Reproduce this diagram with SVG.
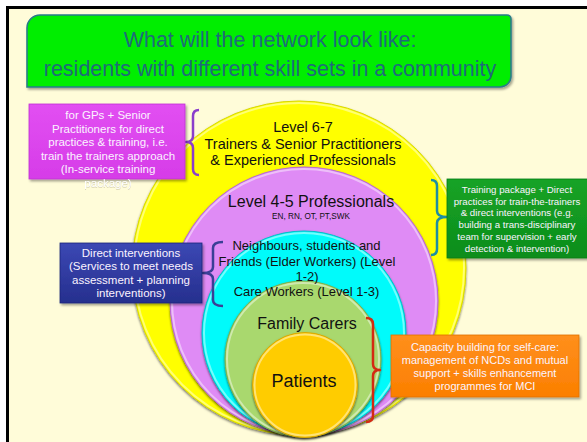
<svg xmlns="http://www.w3.org/2000/svg" width="587" height="442" viewBox="0 0 587 442">
  <defs>
    <style>
      .lbl { font-family: "Liberation Sans", Arial, sans-serif; fill: #111; text-anchor: middle; }
      .box-txt { font-family: "Liberation Sans", Arial, sans-serif; fill: #fbf3ff; text-anchor: middle; }
      .title { font-family: "Liberation Sans", Arial, sans-serif; fill: #1f6b7a; text-anchor: middle; font-size: 21.5px; }
      .ring { filter: url(#ringShadow); }
      .rim { fill: none; stroke: #ffffff; stroke-opacity: 0.45; stroke-width: 2; }
      .brace { fill: none; stroke-width: 2.5; stroke-linejoin: round; stroke-linecap: butt; }
      .card { filter: url(#cardShadow); }
    </style>
    <filter id="ringShadow" x="-10%" y="-10%" width="120%" height="125%">
      <feDropShadow dx="0" dy="1.5" stdDeviation="1.2" flood-color="#000" flood-opacity="0.55"/>
    </filter>
    <filter id="cardShadow" x="-10%" y="-10%" width="125%" height="130%">
      <feDropShadow dx="1.5" dy="2" stdDeviation="1.2" flood-color="#000" flood-opacity="0.35"/>
    </filter>
    <filter id="softGlow" x="-10%" y="-40%" width="120%" height="180%">
      <feDropShadow dx="0" dy="0.5" stdDeviation="0.7" flood-color="#7a6e50" flood-opacity="0.55"/>
    </filter>
    <linearGradient id="blueFill" x1="0" y1="0" x2="0" y2="1">
      <stop offset="0" stop-color="#3b48b4"/>
      <stop offset="1" stop-color="#262f8e"/>
    </linearGradient>
    <linearGradient id="magFill" x1="0" y1="0" x2="0" y2="1">
      <stop offset="0" stop-color="#e24ff2"/>
      <stop offset="1" stop-color="#d63ce8"/>
    </linearGradient>
    <linearGradient id="grnFill" x1="0" y1="0" x2="0" y2="1">
      <stop offset="0" stop-color="#17a326"/>
      <stop offset="1" stop-color="#0c8d1b"/>
    </linearGradient>
    <linearGradient id="orgFill" x1="0" y1="0" x2="0" y2="1">
      <stop offset="0" stop-color="#ff8f1c"/>
      <stop offset="1" stop-color="#fb7f00"/>
    </linearGradient>
  </defs>

  <!-- page and frame -->
  <rect x="0" y="0" width="587" height="442" fill="#ffffff"/>
  <rect x="7.5" y="7.5" width="620" height="480" fill="#fffcd9" stroke="#000" stroke-width="3"/>

  <!-- heading banner -->
  <g id="title">
    <path d="M27,87 L27,28 A13,13 0 0 1 40,15 L507,15 A4,4 0 0 1 511,19 L511,76 A11,11 0 0 1 500,87 Z"
          fill="#00ee00" stroke="#2a7c88" stroke-width="1.6" filter="url(#cardShadow)"/>
    <text class="title" x="270" y="47">What will the network look like:</text>
    <text class="title" x="270" y="76">residents with different skill sets in a community</text>
  </g>

  <!-- nested rings, outermost first -->
  <g id="level-6-7">
    <circle class="ring" cx="299" cy="268" r="167" fill="#ffff00" stroke="#d8d800" stroke-width="1"/>
    <circle class="rim" cx="299" cy="268" r="165"/>
  </g>

  <g id="level-4-5">
    <circle class="ring" cx="304" cy="301" r="134" fill="#df8bf5" stroke="#b86bcf" stroke-width="1"/>
    <circle class="rim" cx="304" cy="301" r="132"/>
  </g>

  <g id="level-1-3">
    <circle class="ring" cx="304" cy="333" r="102" fill="#00fbfb" stroke="#00c0c8" stroke-width="1"/>
    <circle class="rim" cx="304" cy="333" r="100"/>
  </g>

  <g id="family-carers">
    <circle class="ring" cx="303" cy="359" r="78" fill="#a9d86e" stroke="#7fae4a" stroke-width="1"/>
    <circle class="rim" cx="303" cy="359" r="76"/>
  </g>

  <g id="patients">
    <circle class="ring" cx="305" cy="385" r="52.5" fill="#ffcc00" stroke="#d9a800" stroke-width="1"/>
    <circle class="rim" cx="305" cy="385" r="50.5" stroke-opacity="0.6"/>
  </g>

  <!-- ring captions, drawn above every ring -->
  <g id="level-6-7-text" class="lbl" font-size="14.5">
    <text x="303" y="132">Level 6-7</text>
    <text x="303" y="148.5">Trainers &amp; Senior Practitioners</text>
    <text x="303" y="165">&amp; Experienced Professionals</text>
  </g>
  <g id="level-4-5-text" class="lbl">
    <text x="311" y="207" font-size="16">Level 4-5 Professionals</text>
    <text x="311" y="219" font-size="8.2">EN, RN, OT, PT,SWK</text>
  </g>
  <g id="level-1-3-text" class="lbl" font-size="13">
    <text x="306.5" y="250">Neighbours, students and</text>
    <text x="307" y="266">Friends (Elder Workers) (Level</text>
    <text x="307" y="281">1-2)</text>
    <text x="306.5" y="296">Care Workers (Level 1-3)</text>
  </g>
  <g id="family-carers-text" class="lbl">
    <text x="307" y="329" font-size="16">Family Carers</text>
  </g>
  <g id="patients-text" class="lbl">
    <text x="304" y="387" font-size="18">Patients</text>
  </g>

  <!-- braces linking each note to its ring -->
  <g id="connectors">
    <path class="brace" stroke="#8b3fcc" d="M199,110 Q193,110 193,116 L193,136 Q193,142 186,142 Q193,142 193,148 L193,169 Q193,175 199,175"/>
    <path class="brace" stroke="#1e8ea2" d="M431,180 Q437,180 437,186 L437,211 Q437,217 447,217 Q437,217 437,223 L437,249 Q437,255 431,255"/>
    <path class="brace" stroke="#3b3f96" d="M223,242 Q213,242 213,248 L213,267 Q213,273 203,273 Q213,273 213,279 L213,300 Q213,306 223,306"/>
    <path class="brace" stroke="#d42a12" d="M366,318 Q373,318 373,324 L373,364 Q373,370 380,370 Q373,370 373,376 L373,416 Q373,422 366,422"/>
  </g>

  <!-- notes -->
  <g id="note-trainers">
    <rect class="card" x="29" y="104" width="156" height="75" fill="url(#magFill)" stroke="#c030d4" stroke-width="0.8"/>
    <g class="box-txt" font-size="11.5">
      <text x="108" y="119">for GPs + Senior</text>
      <text x="108" y="132.5">Practitioners for direct</text>
      <text x="108" y="146">practices &amp; training, i.e.</text>
      <text x="108" y="159.5">train the trainers approach</text>
      <text x="108" y="173">(In-service training</text>
      <text x="108" y="186.5" fill="#ffffff" filter="url(#softGlow)">package)</text>
    </g>
  </g>

  <g id="note-training-package">
    <rect class="card" x="447" y="179" width="142" height="79" fill="url(#grnFill)" stroke="#0a7a16" stroke-width="0.8"/>
    <g class="box-txt" font-size="9.7" fill="#f3fff3">
      <text x="517" y="193">Training package + Direct</text>
      <text x="517" y="204.5">practices for train-the-trainers</text>
      <text x="517" y="216">&amp; direct interventions (e.g.</text>
      <text x="517" y="228">building a trans-disciplinary</text>
      <text x="517" y="239.5">team for supervision + early</text>
      <text x="517" y="252">detection &amp; intervention)</text>
    </g>
  </g>

  <g id="note-direct-interventions">
    <rect class="card" x="60" y="243" width="142" height="60" fill="url(#blueFill)" stroke="#1c2478" stroke-width="0.8"/>
    <g class="box-txt" font-size="11.5" fill="#f2f2ff">
      <text x="131" y="257">Direct interventions</text>
      <text x="131" y="270">(Services to meet needs</text>
      <text x="131" y="283.5">assessment + planning</text>
      <text x="131" y="297">interventions)</text>
    </g>
  </g>

  <g id="note-self-care">
    <rect class="card" x="391" y="335" width="188" height="62" fill="url(#orgFill)" stroke="#e07000" stroke-width="0.8"/>
    <g class="box-txt" font-size="11" fill="#fff4e6">
      <text x="485" y="351">Capacity building for self-care:</text>
      <text x="485" y="364">management of NCDs and mutual</text>
      <text x="485" y="377">support + skills enhancement</text>
      <text x="485" y="390">programmes for MCI</text>
    </g>
  </g>
</svg>
